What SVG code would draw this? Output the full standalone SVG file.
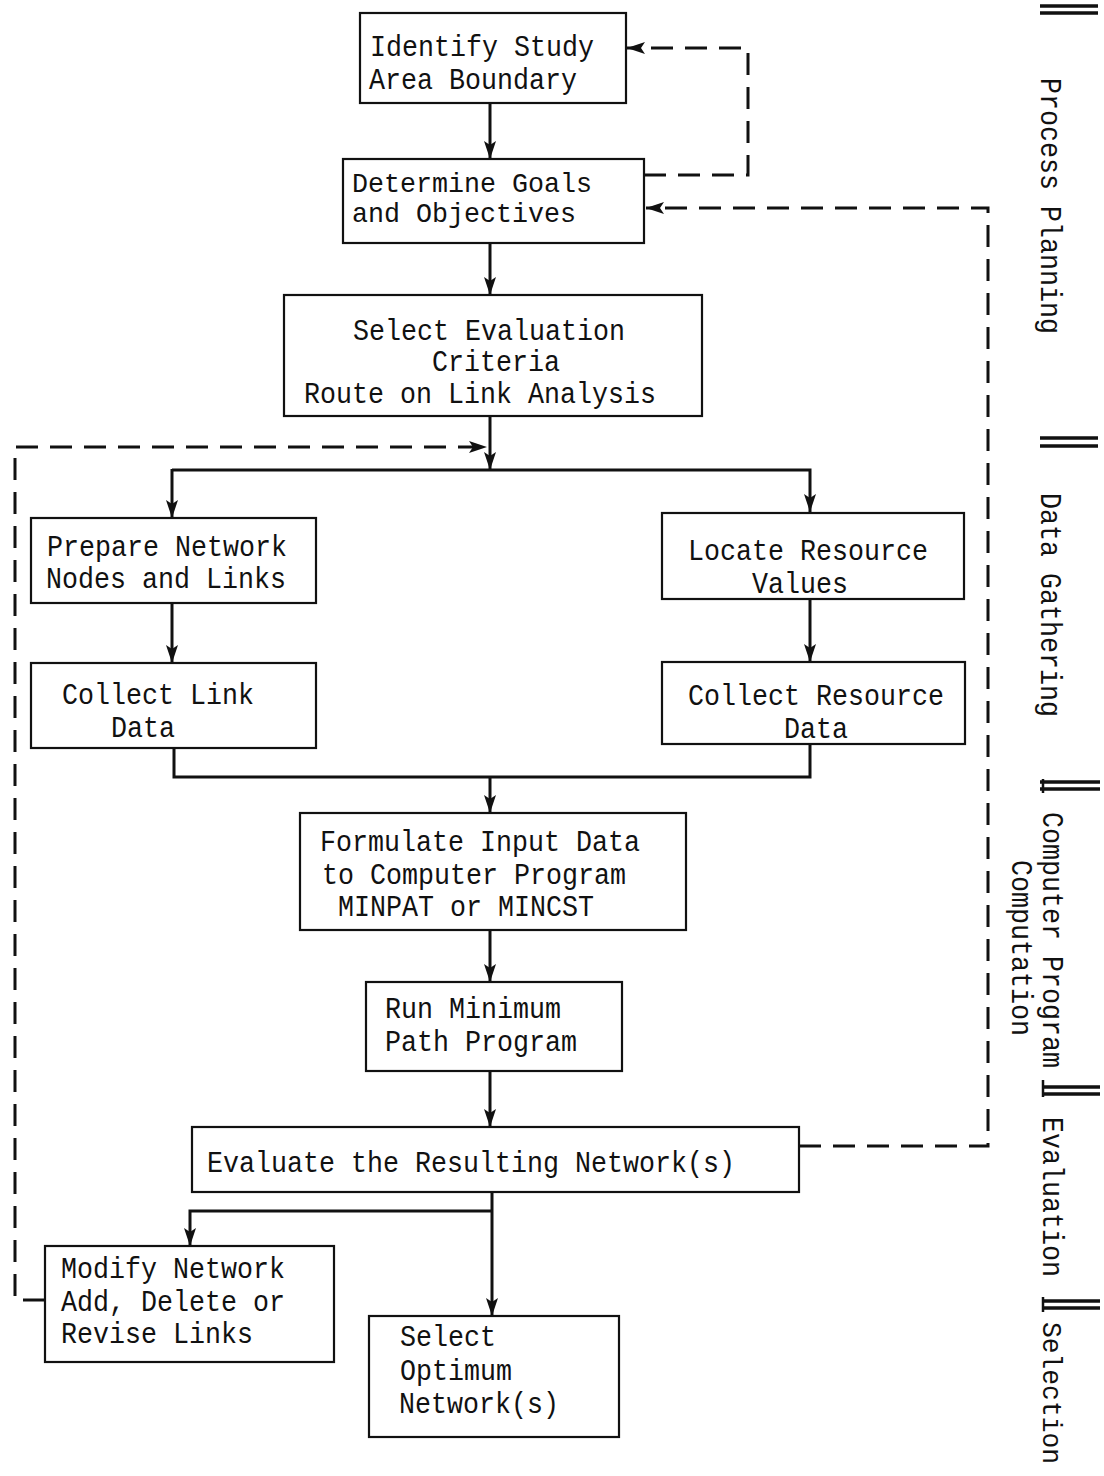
<svg xmlns="http://www.w3.org/2000/svg" width="1104" height="1476" viewBox="0 0 1104 1476">
<style>
.box{fill:#fff;stroke:#111;stroke-width:2.2}
.t{font-family:"Liberation Mono","DejaVu Sans Mono",monospace;font-size:30px;fill:#111}
.s{font-size:28px}
.ln{fill:none;stroke:#111;stroke-width:3}
.dl{fill:none;stroke:#111;stroke-width:3;stroke-dasharray:22 12}
.bar{stroke:#111;stroke-width:3.5}
</style>
<defs>
<marker id="ah" viewBox="0 0 18 12" refX="18" refY="6" markerWidth="18" markerHeight="12" markerUnits="userSpaceOnUse" orient="auto">
<path d="M0,0 L18,6 L0,12 L4,6 Z" fill="#111"/>
</marker>
</defs>
<rect width="1104" height="1476" fill="#fff"/>

<g id="connectors">
<line class="ln" x1="490" y1="103" x2="490" y2="159" marker-end="url(#ah)"/>
<line class="ln" x1="490" y1="243" x2="490" y2="295" marker-end="url(#ah)"/>
<line class="ln" x1="490" y1="416" x2="490" y2="470" marker-end="url(#ah)"/>
<path class="ln" d="M172,470 H810 V512" marker-end="url(#ah)"/>
<line class="ln" x1="172" y1="469" x2="172" y2="518" marker-end="url(#ah)"/>
<line class="ln" x1="172" y1="603" x2="172" y2="663" marker-end="url(#ah)"/>
<line class="ln" x1="810" y1="598" x2="810" y2="662" marker-end="url(#ah)"/>
<path class="ln" d="M174,748 V777 H810 V744"/>
<line class="ln" x1="490" y1="777" x2="490" y2="813" marker-end="url(#ah)"/>
<line class="ln" x1="490" y1="930" x2="490" y2="982" marker-end="url(#ah)"/>
<line class="ln" x1="490" y1="1071" x2="490" y2="1127" marker-end="url(#ah)"/>
<line class="ln" x1="492" y1="1192" x2="492" y2="1316" marker-end="url(#ah)"/>
<path class="ln" d="M492,1211 H190 V1246" marker-end="url(#ah)"/>
<path class="dl" d="M644,175 H748 V48 H627" marker-end="url(#ah)"/>
<path class="dl" d="M799,1146 H988 V208 H646" marker-end="url(#ah)"/>
<path class="dl" d="M45,1300 H15 V447 H487" marker-end="url(#ah)"/>
</g>

<g id="n1"><rect class="box" x="360" y="13" width="266" height="90"/>
<text class="t" x="370" y="56" textLength="224" lengthAdjust="spacingAndGlyphs">Identify Study</text>
<text class="t" x="369" y="89" textLength="208" lengthAdjust="spacingAndGlyphs">Area Boundary</text></g>

<g id="n2"><rect class="box" x="343" y="159" width="301" height="84"/>
<text class="t s" x="352" y="192" textLength="240" lengthAdjust="spacingAndGlyphs">Determine Goals</text>
<text class="t s" x="352" y="222" textLength="224" lengthAdjust="spacingAndGlyphs">and Objectives</text></g>

<g id="n3"><rect class="box" x="284" y="295" width="418" height="121"/>
<text class="t" x="353" y="340" textLength="272" lengthAdjust="spacingAndGlyphs">Select Evaluation</text>
<text class="t" x="432" y="371" textLength="128" lengthAdjust="spacingAndGlyphs">Criteria</text>
<text class="t" x="304" y="403" textLength="352" lengthAdjust="spacingAndGlyphs">Route on Link Analysis</text></g>

<g id="n4"><rect class="box" x="31" y="518" width="285" height="85"/>
<text class="t" x="47" y="556" textLength="240" lengthAdjust="spacingAndGlyphs">Prepare Network</text>
<text class="t" x="46" y="588" textLength="240" lengthAdjust="spacingAndGlyphs">Nodes and Links</text></g>

<g id="n5"><rect class="box" x="31" y="663" width="285" height="85"/>
<text class="t" x="62" y="704" textLength="192" lengthAdjust="spacingAndGlyphs">Collect Link</text>
<text class="t" x="111" y="737" textLength="64" lengthAdjust="spacingAndGlyphs">Data</text></g>

<g id="n6"><rect class="box" x="662" y="513" width="302" height="86"/>
<text class="t" x="688" y="560" textLength="240" lengthAdjust="spacingAndGlyphs">Locate Resource</text>
<text class="t" x="752" y="593" textLength="96" lengthAdjust="spacingAndGlyphs">Values</text></g>

<g id="n7"><rect class="box" x="662" y="662" width="303" height="82"/>
<text class="t" x="688" y="705" textLength="256" lengthAdjust="spacingAndGlyphs">Collect Resource</text>
<text class="t" x="784" y="738" textLength="64" lengthAdjust="spacingAndGlyphs">Data</text></g>

<g id="n8"><rect class="box" x="300" y="813" width="386" height="117"/>
<text class="t" x="320" y="851" textLength="320" lengthAdjust="spacingAndGlyphs">Formulate Input Data</text>
<text class="t" x="322" y="884" textLength="304" lengthAdjust="spacingAndGlyphs">to Computer Program</text>
<text class="t" x="338" y="916" textLength="256" lengthAdjust="spacingAndGlyphs">MINPAT or MINCST</text></g>

<g id="n9"><rect class="box" x="366" y="982" width="256" height="89"/>
<text class="t" x="385" y="1018" textLength="176" lengthAdjust="spacingAndGlyphs">Run Minimum</text>
<text class="t" x="385" y="1051" textLength="192" lengthAdjust="spacingAndGlyphs">Path Program</text></g>

<g id="n10"><rect class="box" x="192" y="1127" width="607" height="65"/>
<text class="t" x="207" y="1172" textLength="528" lengthAdjust="spacingAndGlyphs">Evaluate the Resulting Network(s)</text></g>

<g id="n11"><rect class="box" x="45" y="1246" width="289" height="116"/>
<text class="t" x="61" y="1278" textLength="224" lengthAdjust="spacingAndGlyphs">Modify Network</text>
<text class="t" x="61" y="1311" textLength="224" lengthAdjust="spacingAndGlyphs">Add, Delete or</text>
<text class="t" x="61" y="1343" textLength="192" lengthAdjust="spacingAndGlyphs">Revise Links</text></g>

<g id="n12"><rect class="box" x="369" y="1316" width="250" height="121"/>
<text class="t" x="400" y="1346" textLength="96" lengthAdjust="spacingAndGlyphs">Select</text>
<text class="t" x="400" y="1380" textLength="112" lengthAdjust="spacingAndGlyphs">Optimum</text>
<text class="t" x="399" y="1413" textLength="160" lengthAdjust="spacingAndGlyphs">Network(s)</text></g>

<g id="phases">
<line class="bar" x1="1040" y1="6" x2="1098" y2="6"/><line class="bar" x1="1040" y1="13" x2="1098" y2="13"/>
<line class="bar" x1="1040" y1="438" x2="1098" y2="438"/><line class="bar" x1="1040" y1="446" x2="1098" y2="446"/>
<line class="bar" x1="1040" y1="782" x2="1100" y2="782"/><line class="bar" x1="1040" y1="789" x2="1100" y2="789"/>
<line class="bar" x1="1043" y1="779" x2="1043" y2="793" style="stroke-width:2.5"/>
<line class="bar" x1="1042" y1="1087" x2="1100" y2="1087"/><line class="bar" x1="1042" y1="1094" x2="1100" y2="1094"/>
<line class="bar" x1="1043" y1="1080" x2="1043" y2="1097" style="stroke-width:2.5"/>
<line class="bar" x1="1042" y1="1301" x2="1100" y2="1301"/><line class="bar" x1="1042" y1="1308" x2="1100" y2="1308"/>
<line class="bar" x1="1043" y1="1297" x2="1043" y2="1312" style="stroke-width:2.5"/>
<text class="t" transform="translate(1041,78) rotate(90)" textLength="256" lengthAdjust="spacingAndGlyphs">Process Planning</text>
<text class="t" transform="translate(1041,493) rotate(90)" textLength="224" lengthAdjust="spacingAndGlyphs">Data Gathering</text>
<text class="t" transform="translate(1043,812) rotate(90)" textLength="256" lengthAdjust="spacingAndGlyphs">Computer Program</text>
<text class="t" transform="translate(1012,860) rotate(90)" textLength="176" lengthAdjust="spacingAndGlyphs">Computation</text>
<text class="t" transform="translate(1043,1117) rotate(90)" textLength="160" lengthAdjust="spacingAndGlyphs">Evaluation</text>
<text class="t" style="font-size:27px" transform="translate(1043,1322) rotate(90)" textLength="142" lengthAdjust="spacingAndGlyphs">Selection</text>
</g>
</svg>
